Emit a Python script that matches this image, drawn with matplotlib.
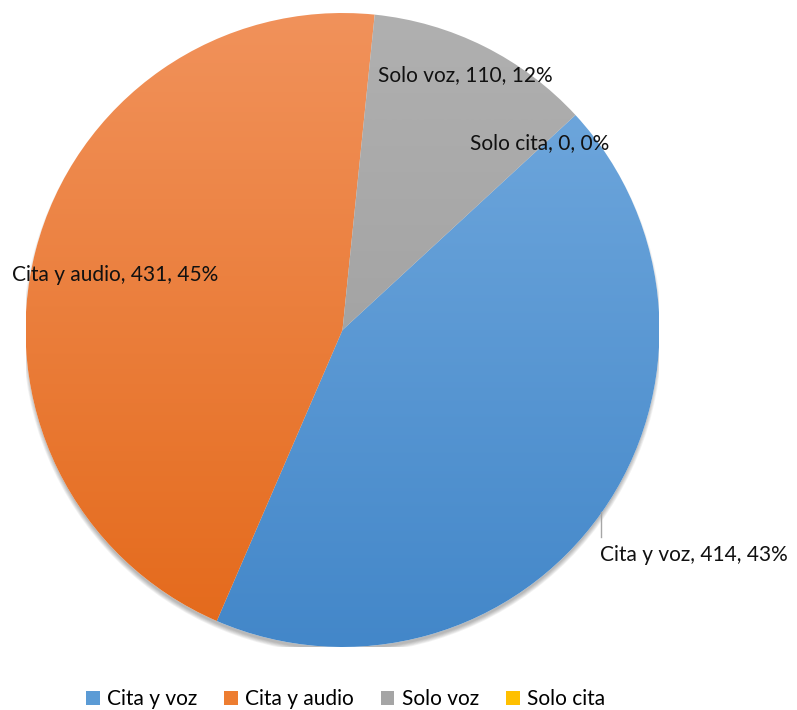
import numpy as np
import matplotlib
matplotlib.use('Agg')
import matplotlib.pyplot as plt
from matplotlib.colors import LinearSegmentedColormap
from matplotlib.patches import Patch, Circle

plt.rcParams['font.family'] = ['Lato', 'DejaVu Sans']

categories = ['Cita y voz', 'Cita y audio', 'Solo voz', 'Solo cita']
values = [414, 431, 110, 0]
# (top colour, bottom colour) of the vertical gradient on each slice
top_colors = ['#74ABDF', '#F1925B', '#B0B0B0', '#FFC92A']
bottom_colors = ['#4387C9', '#E4691A', '#989898', '#F0B400']
legend_colors = ['#5B9BD5', '#ED7D31', '#A5A5A5', '#FFC000']

W, H = 797, 710
CX, CY, R = 342.5, 330, 317


def to_data(px, py):
    return (px - CX) / R, (CY - py) / R


fig = plt.figure(figsize=(W / 100, H / 100), dpi=100)
ax = fig.add_axes([(CX - R) / W, (H - CY - R) / H, 2 * R / W, 2 * R / H])

# soft drop shadow under the pie
for i in range(6):
    ax.add_patch(Circle((0.0, -0.014), 0.995 + 0.0025 * i, color='k',
                        alpha=0.05, lw=0, zorder=0))

wedges, _ = ax.pie(values, startangle=42.7, counterclock=False, radius=1,
                   wedgeprops=dict(linewidth=0))

grad = np.linspace(0, 1, 256).reshape(-1, 1)
for w, c_top, c_bot in zip(wedges, top_colors, bottom_colors):
    w.set_facecolor('white')
    w.set_zorder(1)
    cmap = LinearSegmentedColormap.from_list('g', [c_bot, c_top])
    im = ax.imshow(grad, extent=(-1, 1, -1, 1), origin='lower', cmap=cmap,
                   aspect='auto', zorder=2)
    im.set_clip_path(w)

ax.set_xlim(-1, 1)
ax.set_ylim(-1, 1)
ax.axis('off')

total = sum(values)
labels = [f'{c}, {v}, {round(v / total * 100)}%' for c, v in zip(categories, values)]
label_px = [(600, 555), (12, 275), (378, 75), (470, 143)]
for lab, (px, py) in zip(labels, label_px):
    x, y = to_data(px, py)
    ax.text(x, y, lab, ha='left', va='center', fontsize=15, color='#111111',
            zorder=5)

# leader line for "Cita y voz"
x0, y0 = to_data(601, 512)
x1, y1 = to_data(601, 537)
ax.plot([x0, x1], [y0, y1], color='#A6A6A6', lw=1, zorder=5, clip_on=False)

handles = [Patch(facecolor=c, edgecolor='none') for c in legend_colors]
fig.legend(handles, categories, loc='center', ncol=4,
           bbox_to_anchor=(345.5 / W, 1 - 699 / H), frameon=False,
           fontsize=15, handlelength=0.65, handleheight=0.65,
           handletextpad=0.35, columnspacing=1.3)

fig.savefig('out.png', dpi=100, facecolor='white')
